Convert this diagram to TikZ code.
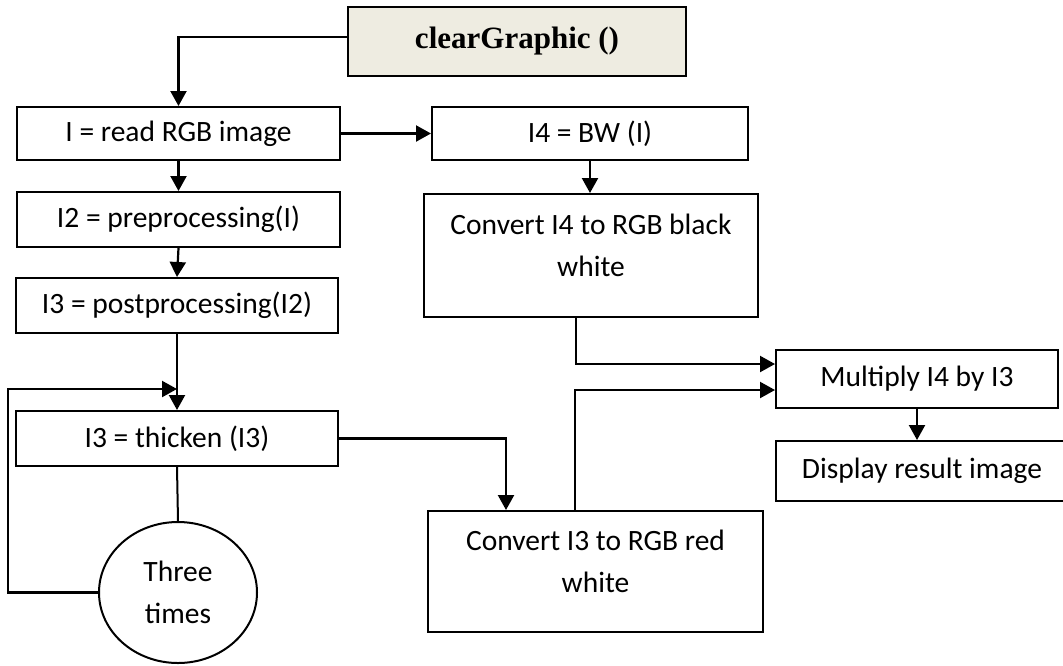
\documentclass[tikz,border=0pt]{standalone}
\usepackage{fontspec}
\setmainfont{Carlito}
\newfontfamily\titlefont{Liberation Serif}
\usetikzlibrary{arrows.meta,shapes.geometric}

\definecolor{titlebg}{HTML}{EEECE1}
\tikzset{
  box/.style={draw, line width=2pt, inner sep=0pt, align=center,
    font=\fontsize{29.5}{42}\selectfont},
  arr/.style={line width=2.2pt, -{Triangle[length=15pt,width=16pt]}},
  link/.style={line width=2pt},
}

\begin{document}
\begin{tikzpicture}[x=1pt, y=-1pt]
    \useasboundingbox (0,0) rectangle (1063,665);

    % Title
    \node[box, fill=titlebg, minimum width=338pt, minimum height=69pt,
      font=\titlefont\bfseries\fontsize{31}{36}\selectfont] (title) at (517,41.5) {clearGraphic ()};

    % Left column
    \node[box, minimum width=323pt, minimum height=53pt] (read) at (178.5,133.5) {I = read RGB image};
    \node[box, minimum width=323pt, minimum height=55pt] (pre) at (178.5,219.5) {I2 = preprocessing(I)};
    \node[box, minimum width=322pt, minimum height=55pt] (post) at (177,305.5) {I3 = postprocessing(I2)};
    \node[box, minimum width=322pt, minimum height=55pt] (thick) at (177,438.5) {I3 = thicken (I3)};
    \node[box, ellipse, minimum width=158pt, minimum height=141pt] (times) at (178,592.5) {Three\\times};

    % Right side
    \node[box, minimum width=316pt, minimum height=53pt] (bw) at (590,133.5) {I4 = BW (I)};
    \node[box, minimum width=334pt, minimum height=123pt, text depth=20pt] (cvtbw) at (591,255.5) {Convert I4 to RGB black\\white};
    \node[box, minimum width=335pt, minimum height=121pt, text depth=20pt] (cvtred) at (595.5,571.5) {Convert I3 to RGB red\\white};
    \node[box, minimum width=282pt, minimum height=58pt] (mult) at (917,379) {Multiply I4 by I3};
    \node[box, minimum width=292pt, minimum height=60pt] (disp) at (922,471) {Display result image};

    % Main flow
    \draw[arr] ([yshift=4.5pt]title.west) -| (read.north);
    \draw[arr] (read.east) -- (bw.west);
    \draw[arr] (read.south) -- (pre.north);
    \draw[arr] (pre.south) -- (post.north);
    \draw[arr] (post.south) -- (thick.north);
    \draw[link] (thick.south) -- (times.north);

    % Loop back three times
    \coordinate (loopin) at ([yshift=21pt]thick.north);
    \draw[arr] (times.west) -- ++(-90,0) |- (loopin);

    % Towards the colour images
    \draw[arr] (thick.east) -| ([xshift=79pt]cvtred.north west);
    \draw[arr] (bw.south) -- (bw.south |- cvtbw.north);
    \draw[arr] ([xshift=-15pt]cvtbw.south) |- ([yshift=15pt]mult.west);
    \draw[arr] ([xshift=148pt]cvtred.north west) |- ([yshift=-11pt]mult.west);
    \draw[arr] (mult.south) -- (mult.south |- disp.north);
\end{tikzpicture}
\end{document}
